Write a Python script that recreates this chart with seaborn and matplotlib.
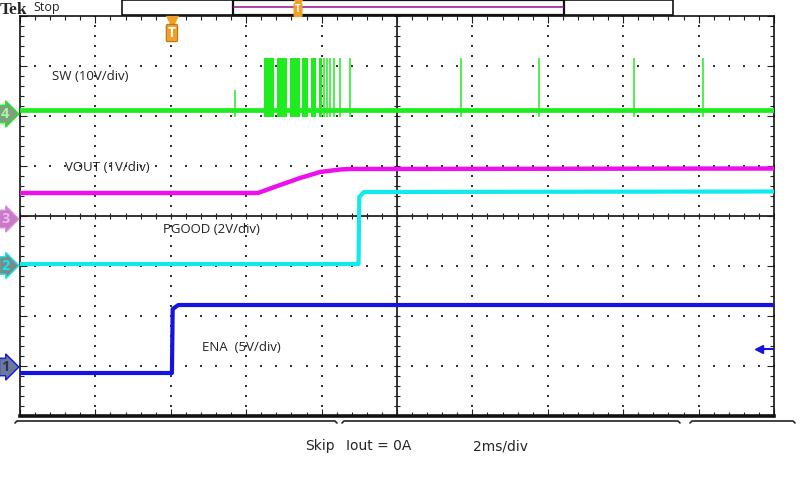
import numpy as np
import matplotlib
matplotlib.use("Agg")
import matplotlib.pyplot as plt
from matplotlib.patches import Rectangle
from matplotlib.lines import Line2D
import seaborn as sns

# time in ms (2 ms/div, 10 div), level in divisions from screen centre
ena_t = [0, 4.03, 4.05, 4.2, 20]
ena_v = [-3.14, -3.14, -1.86, -1.78, -1.78]
pgood_t = [0, 8.98, 9.0, 9.12, 20]
pgood_v = [-0.96, -0.96, 0.38, 0.48, 0.49]
vout_t = [0, 6.31, 6.9, 7.43, 7.96, 8.49, 8.75, 20]
vout_v = [0.46, 0.46, 0.62, 0.76, 0.88, 0.93, 0.94, 0.95]
sw_t = [0, 20]
sw_v = [2.12, 2.12]
sw_burst_start = [6.47, 6.82, 7.16, 7.48, 7.72, 7.94]
sw_burst_end = [6.74, 7.08, 7.43, 7.64, 7.86, 8.01]
sw_spikes = [8.06, 8.14, 8.22, 8.33, 8.49, 8.75, 11.70, 13.77, 16.29, 18.12]
sw_spike_top = 3.16
sw_spike_low = 1.98
sw_small_spike = 5.70
sw_small_top = 2.52

labels = ["SW (10V/div)", "VOUT (1V/div)", "PGOOD (2V/div)", "ENA  (5V/div)"]
label_x = [0.85, 1.19, 3.79, 4.83]
label_y = [2.80, 0.98, -0.26, -2.62]

channels = ["4", "3", "2", "1"]
channel_y = [2.04, -0.06, -0.99, -3.02]
trig_time = 4.03
trig_level = -2.66

GREEN = "#1eec1e"
MAGENTA = "#ec10ec"
CYAN = "#10eaea"
BLUE = "#1414e0"
ORANGE = "#f0a024"

sns.set_style("white")
plt.rcParams["font.family"] = ["Open Sans", "DejaVu Sans"]

fig = plt.figure(figsize=(8, 4.8), dpi=100)
ax = fig.add_axes([20 / 800, 64 / 480, 754 / 800, 400 / 480])
ax.set_xlim(0, 20)
ax.set_ylim(-4, 4)

# graticule
for gx in [2, 4, 6, 8, 12, 14, 16, 18]:
    yy = np.arange(-4, 4.01, 0.2)
    ax.scatter(np.full(len(yy), gx), yy, s=1.2, marker="s", color="#333333", linewidths=0, zorder=1)
for gy in [-3, -2, -1, 1, 2, 3]:
    xx = np.arange(0, 20.01, 0.4)
    ax.scatter(xx, np.full(len(xx), gy), s=1.2, marker="s", color="#333333", linewidths=0, zorder=1)
ax.axvline(10, color="#222222", lw=1.3, zorder=1)
ax.axhline(0, color="#222222", lw=1.3, zorder=1)
ty = np.arange(-4, 4.01, 0.2)
ax.plot(np.full(len(ty), 10), ty, ls="none", marker="_", ms=5, mew=0.8, color="#222222", zorder=1)
tx = np.arange(0, 20.01, 0.4)
ax.plot(tx, np.zeros(len(tx)), ls="none", marker="|", ms=5, mew=0.8, color="#222222", zorder=1)

ax.set_xticks(np.arange(0, 20.01, 2))
ax.set_xticks(np.arange(0, 20.01, 0.4), minor=True)
ax.set_yticks(np.arange(-4, 4.01, 1))
ax.set_yticks(np.arange(-4, 4.01, 0.2), minor=True)
ax.tick_params(which="both", direction="in", top=True, right=True, left=True, bottom=True,
               labelbottom=False, labelleft=False, color="#222222", width=0.8)
ax.tick_params(which="major", length=5)
ax.tick_params(which="minor", length=3)
for s in ax.spines.values():
    s.set_color("#111111")
    s.set_linewidth(1.2)
ax.spines["bottom"].set_linewidth(2.6)

# traces
sns.lineplot(x=sw_t, y=sw_v, ax=ax, color=GREEN, linewidth=3.4, estimator=None, sort=False, zorder=3)
for a, b in zip(sw_burst_start, sw_burst_end):
    ax.fill_between([a, b], sw_spike_low, sw_spike_top, color=GREEN, linewidth=0, zorder=3)
ax.vlines(sw_spikes, sw_spike_low, sw_spike_top, color=GREEN, linewidth=1.1, zorder=3)
ax.vlines([sw_small_spike], sw_spike_low, sw_small_top, color=GREEN, linewidth=1.1, zorder=3)
sns.lineplot(x=vout_t, y=vout_v, ax=ax, color=MAGENTA, linewidth=3.2, estimator=None, sort=False, zorder=3)
sns.lineplot(x=pgood_t, y=pgood_v, ax=ax, color=CYAN, linewidth=3.0, estimator=None, sort=False, zorder=3)
sns.lineplot(x=ena_t, y=ena_v, ax=ax, color=BLUE, linewidth=3.0, estimator=None, sort=False, zorder=3)

for txt, lx, ly in zip(labels, label_x, label_y):
    ax.text(lx, ly, txt, fontsize=9.5, color="#222222", va="center", ha="left", zorder=4)

# trigger level arrow and trigger position marker
ax.plot([19.6, 20], [trig_level, trig_level], color=BLUE, lw=1.5, zorder=4)
ax.plot([19.6], [trig_level], marker="<", ms=6, color=BLUE, zorder=4)
ax.plot([trig_time], [3.91], marker="v", ms=9, color=ORANGE, clip_on=False, zorder=5)
ax.text(trig_time, 3.66, "T", ha="center", va="center", fontsize=10, color="white", weight="bold",
        bbox=dict(boxstyle="round,pad=0.12", fc=ORANGE, ec="#c07010", lw=0.8), zorder=5)

# channel markers on the left
ch_style = {
    "4": ("#7f9f7f", "#aaf5aa", GREEN),
    "3": ("#c87ac8", "#f0b8f0", "#d890d8"),
    "2": ("#7a8a8a", CYAN, CYAN),
    "1": ("#6a7a9a", "#30305a", BLUE),
}
for ch, cy in zip(channels, channel_y):
    fc, tc, ec = ch_style[ch]
    ax.annotate(ch, xy=(0, cy), xycoords="data", xytext=(-10.5, 0), textcoords="offset points",
                ha="center", va="center", fontsize=10.5, color=tc, weight="bold",
                bbox=dict(boxstyle="rarrow,pad=0.12", fc=fc, ec=ec, lw=1), annotation_clip=False)

# header: Tek Stop and record bar
fig.text(0 / 800, 1 - 14 / 480, "Tek", fontsize=12.5, weight="bold", family="Liberation Serif", va="baseline")
fig.text(33 / 800, 1 - 8 / 480, "Stop", fontsize=9, va="center")
fig.add_artist(Rectangle((122 / 800, 1 - 15 / 480), 551 / 800, 15 / 480, fc="white", ec="#111111",
                         lw=1.2, transform=fig.transFigure))
fig.add_artist(Rectangle((233 / 800, 1 - 15 / 480), 331 / 800, 15 / 480, fc="white", ec="#111111",
                         lw=1.6, transform=fig.transFigure))
fig.add_artist(Line2D([234 / 800, 563 / 800], [1 - 7 / 480, 1 - 7 / 480], color="#a020a0", lw=1.2,
                      transform=fig.transFigure))
fig.add_artist(Line2D([298 / 800], [1 - 3 / 480], marker="v", ms=6, color=ORANGE, transform=fig.transFigure))
fig.text(298 / 800, 1 - 10 / 480, "T", ha="center", va="center", fontsize=7, color="white", weight="bold",
         bbox=dict(boxstyle="round,pad=0.1", fc=ORANGE, ec=ORANGE))

# bottom brackets
for x0, x1 in [(15, 337), (342, 680), (690, 795)]:
    fig.add_artist(Line2D([x0 / 800, x0 / 800 + 2 / 800, x1 / 800 - 2 / 800, x1 / 800],
                          [1 - 423 / 480, 1 - 421 / 480, 1 - 421 / 480, 1 - 423 / 480],
                          color="#222222", lw=1.2, transform=fig.transFigure))

bottom_font = ["Liberation Sans Narrow", "DejaVu Sans"]
fig.text(305 / 800, 1 - 446 / 480, "Skip", fontsize=10, family=bottom_font, va="center")
fig.text(346 / 800, 1 - 446 / 480, "Iout = 0A", fontsize=10, family=bottom_font, va="center")
fig.text(473 / 800, 1 - 446 / 480, "2ms/div", fontsize=10, family=bottom_font, va="center")

fig.savefig("out.png", dpi=100)
